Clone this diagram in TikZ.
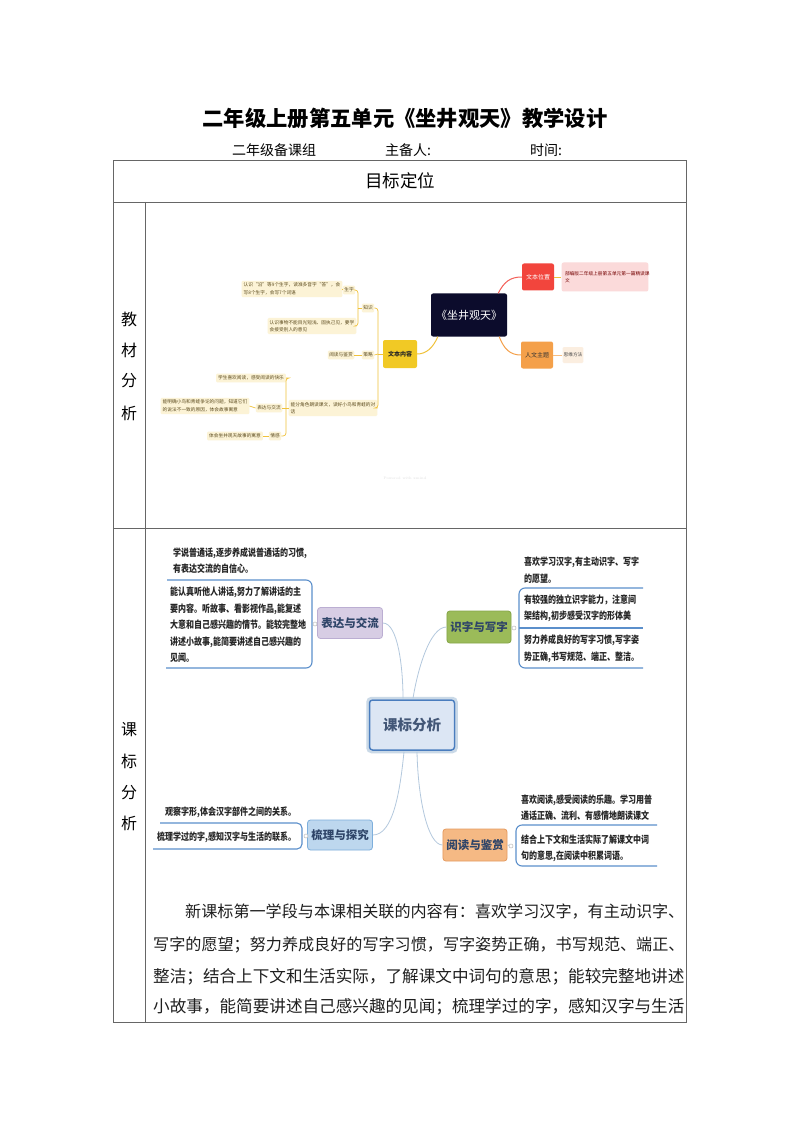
\documentclass[tikz,border=0pt]{standalone}
\usepackage{fontspec}
\usepackage{graphicx}
\usetikzlibrary{calc}
\newfontfamily\cjk{Noto Sans CJK SC}
\newcommand{\nx}[1]{\scalebox{0.8}[1]{#1}}
\definecolor{ygold}{HTML}{F0C23B}
\definecolor{ylt}{HTML}{FCF3D6}
\definecolor{ytx}{HTML}{5C4B1E}
\definecolor{navyb}{HTML}{0C0C2C}
\definecolor{rbox}{HTML}{F2453D}
\definecolor{pbox}{HTML}{FBDADA}
\definecolor{obox}{HTML}{F4A04A}
\definecolor{olt}{HTML}{FBEEE0}
\definecolor{cbox}{HTML}{F1C925}
\definecolor{blu}{HTML}{5B8FCB}
\definecolor{cln}{HTML}{B3C8DD}
\definecolor{ktx}{HTML}{2E4468}
\definecolor{kbfill}{HTML}{DCE6F4}
\definecolor{kbdraw}{HTML}{4A7DBE}
\definecolor{bdfill}{HTML}{D7CDE4}
\definecolor{bddraw}{HTML}{BBAED2}
\definecolor{sxfill}{HTML}{9BBB59}
\definecolor{sxdraw}{HTML}{85A548}
\definecolor{slfill}{HTML}{BDD7EE}
\definecolor{sldraw}{HTML}{7EAFDC}
\definecolor{ydfill}{HTML}{F5B984}
\definecolor{yddraw}{HTML}{E59B60}
\tikzset{
 ym/.style={fill=ylt, rounded corners=1.2, inner xsep=2, inner ysep=2.2, font=\cjk\fontsize{4.7}{7.5}\selectfont, text=ytx, align=left},
 yk/.style={ym, inner xsep=1.5},
 yl/.style={draw=ygold, line width=0.7},
 kbox/.style={rounded corners=3, line width=0.8, font=\cjk\bfseries\fontsize{11.5}{13}\selectfont, text=ktx, minimum height=31, minimum width=64},
 ktext/.style={font=\cjk\bfseries\fontsize{10}{16.5}\selectfont, text=black!85, align=left, inner sep=0, anchor=west},
 bline/.style={draw=blu, line width=1.1},
 cline/.style={draw=cln, line width=0.8},
 knob/.style={circle, draw=gray!55, fill=white, inner sep=0, minimum size=4, line width=0.5},
 tline/.style={draw=black!60, line width=0.9},
 para/.style={inner sep=0, anchor=west, text=black!88},
 side/.style={font=\cjk\fontsize{16}{18}\selectfont, inner sep=0},
}
\begin{document}
\begin{tikzpicture}[x=1pt,y=-1pt]
\useasboundingbox (0,0) rectangle (800,1131);
\fill[white] (0,0) rectangle (800,1131);

% title
\node[font=\cjk\bfseries\fontsize{21.3}{24}\selectfont] (title) at (405,118) {二年级上册第五单元《坐井观天》教学设计};
\node[font=\cjk\fontsize{14}{16}\selectfont, anchor=west, inner sep=0] (grp) at (232,150) {二年级备课组};
\node[font=\cjk\fontsize{14}{16}\selectfont, anchor=west, inner sep=0] (who) at (385,150) {主备人:};
\node[font=\cjk\fontsize{14}{16}\selectfont, anchor=west, inner sep=0] (when) at (530,150) {时间:};

% table
\draw[tline] (113,160) rectangle (686,1022);
\draw[tline] (113,202) -- (686,202);
\draw[tline] (113,528) -- (686,528);
\draw[tline] (145,202) -- (145,1022);
\node[font=\cjk\fontsize{17.5}{20}\selectfont] (goal) at (400,181) {目标定位};
\node[side] (j1) at (129,319) {教};
\node[side] (j2) at (129,350) {材};
\node[side] (j3) at (129,381) {分};
\node[side] (j4) at (129,413) {析};
\node[side] (k1) at (129,730) {课};
\node[side] (k2) at (129,761) {标};
\node[side] (k3) at (129,793) {分};
\node[side] (k4) at (129,823) {析};

% ---------- top mind map ----------
\node[fill=navyb, rounded corners=2, minimum width=76, minimum height=43, text=white, font=\cjk\fontsize{11}{13}\selectfont] (root) at (469,315) {《坐井观天》};
\node[fill=rbox, rounded corners=2, minimum width=32, minimum height=27, text=white, font=\cjk\fontsize{6}{7}\selectfont] (pos) at (538,277) {文本位置};
\node[fill=pbox, rounded corners=2, minimum width=85, minimum height=29, text=red!45!black, font=\cjk\fontsize{4.7}{7.5}\selectfont, align=left, text width=80] (posT) at (605,277) {部编版二年级上册第五单元第一篇精读课\\文};
\node[fill=obox, rounded corners=2, minimum width=32, minimum height=27, text=black!80, font=\cjk\fontsize{6}{7}\selectfont] (theme) at (537,355) {人文主题};
\node[fill=olt, rounded corners=1.2, minimum width=20, minimum height=16, text=black!70, font=\cjk\fontsize{4.7}{6}\selectfont, inner sep=1] (themeT) at (573,355) {思维方法};
\node[fill=cbox, rounded corners=2, minimum width=34, minimum height=28, text=black!85, font=\cjk\bfseries\fontsize{6}{7}\selectfont] (content) at (400,354) {文本内容};

\node[yk] (know) at (368,308) {知识};
\node[yk] (sz) at (349,290) {生字};
\node[ym] (t1) at (292,289) {认识“沿”等9个生字，读准多音字“答”，会\\写8个生字，会写7个词语};
\node[ym] (t2) at (312,326) {认识事物不能目光短浅、固执己见，要学\\会接受别人的意见};
\node[yk] (cl) at (368,355) {策略};
\node[yk] (rd) at (341,355) {阅读与鉴赏};
\node[ym] (long) at (333,408) {能分角色朗读课文，读好小鸟和青蛙的对\\话};
\node[yk] (ex) at (269,408) {表达与交流};
\node[ym] (s1) at (251,378) {学生喜欢阅读，感受阅读的快乐};
\node[ym] (s2) at (205,406) {能明确小鸟和青蛙争论的问题，知道它们\\的说法不一致的原因，体会故事寓意};
\node[yk] (emo) at (275,436) {情感};
\node[ym] (s3) at (235,436) {体会坐井观天故事的寓意};

\coordinate (cj) at (378,354);
\coordinate (kj) at (358,308);
\coordinate (lj) at (286,408);
\draw[yl] (content.west) -- (cj);
\draw[yl, rounded corners=3] (cj) |- (know.east);
\draw[yl, rounded corners=3] (cj) |- (long.east);
\draw[yl] (cj) -- (cl.east);
\draw[yl] (know.west) -- (kj);
\draw[yl, rounded corners=3] (kj) |- (sz.east);
\draw[yl, rounded corners=3] (kj) |- (t2.east);
\draw[yl] (sz.west) -- (t1.east);
\draw[yl] (cl.west) -- (rd.east);
\draw[yl] (long.west) -- (lj);
\draw[yl, rounded corners=3] (lj) |- (s1.east);
\draw[yl] (lj) -- (ex.east);
\draw[yl, rounded corners=3] (lj) |- (emo.east);
\draw[yl] (ex.west) -- (s2.east);
\draw[yl] (emo.west) -- (s3.east);
\draw[yl] (pos.east) -- (posT.west);
\draw[draw=obox!70, line width=0.7] (theme.east) -- (themeT.west);

\draw[draw=rbox!85, line width=1] ($(root.north east)+(-9,0)$) .. controls (504,282) and (510,277) .. (pos.west);
\draw[draw=obox, line width=1] ($(root.south east)+(-8,0)$) .. controls (504,349) and (510,355) .. (theme.west);
\draw[draw=ygold, line width=1] ($(root.south west)+(7,0)$) .. controls (433,348) and (426,354) .. (content.east);

\node[font=\fontsize{3.5}{4}\selectfont, text=gray!25] (wm) at (405,478) {Powered with xmind};

% ---------- second mind map ----------
\node[rounded corners=4, draw=cln!70, line width=2.5, minimum width=89, minimum height=54] (kbo) at (412,725) {};
\node[kbox, fill=kbfill, draw=kbdraw, line width=1.5, minimum width=85, minimum height=50, font=\cjk\bfseries\fontsize{14.5}{16}\selectfont, text=ktx!90] (kb) at (412,725) {课标分析};
\node[kbox, fill=bdfill, draw=bddraw, minimum width=65, minimum height=31] (bd) at (350,623) {表达与交流};
\node[kbox, fill=sxfill, draw=sxdraw, minimum width=63, minimum height=32] (sx) at (479,627) {识字与写字};
\node[kbox, fill=slfill, draw=sldraw, minimum width=65, minimum height=30] (sl) at (340,835) {梳理与探究};
\node[kbox, fill=ydfill, draw=yddraw, minimum width=63, minimum height=32] (yd) at (475,845) {阅读与鉴赏};

\draw[cline] (bd.east) .. controls (398,623) and (403,668) .. ($(kb.north)+(-9,-1)$);
\draw[cline] (sx.west) .. controls (430,627) and (418,668) .. ($(kb.north)+(1,-1)$);
\draw[cline] (sl.east) .. controls (393,835) and (400,792) .. ($(kb.south)+(-8,1)$);
\draw[cline] (yd.west) .. controls (428,845) and (418,800) .. ($(kb.south)+(5,1)$);

% 表达与交流 texts
\node[ktext] (eA) at (173,560.5) {\nx{学说普通话,逐步养成说普通话的习惯,}\\\nx{有表达交流的自信心。}};
\node[ktext] (eB) at (170,625) {\nx{能认真听他人讲话,努力了解讲话的主}\\\nx{要内容。听故事、看影视作品,能复述}\\\nx{大意和自己感兴趣的情节。能较完整地}\\\nx{讲述小故事,能简要讲述自己感兴趣的}\\\nx{见闻。}};
\coordinate (eA1) at (167,580);
\coordinate (eB1) at (166,668);
\draw[bline, rounded corners=6] (eA1) -- (312,580) -- (312,668) -- (eB1);
\node[knob] (kA) at (315,624) {};
\draw[cline] (kA) -- (bd.west);

% 识字与写字 texts
\node[ktext] (w1) at (524,570) {\nx{喜欢学习汉字,有主动识字、写字}\\\nx{的愿望。}};
\node[ktext] (w2) at (524,608.5) {\nx{有较强的独立识字能力，注意间}\\\nx{架结构,初步感受汉字的形体美}};
\node[ktext] (w3) at (524,649) {\nx{努力养成良好的写字习惯,写字姿}\\\nx{势正确,书写规范、端正、整洁。}};
\coordinate (wA) at (643,588);
\coordinate (wB) at (643,628);
\coordinate (wC) at (643,668);
\draw[bline, rounded corners=6] (wA) -- (519,588) -- (519,668) -- (wC);
\draw[bline] (519,628) -- (wB);
\node[knob] (kW) at (514,628) {};
\draw[cline] (sx.east) -- (kW);

% 阅读与鉴赏 texts
\node[ktext] (r1) at (521,807.5) {\nx{喜欢阅读,感受阅读的乐趣。学习用普}\\\nx{通话正确、流利、有感情地朗读课文}};
\node[ktext] (r2) at (521,848.5) {\nx{结合上下文和生活实际了解课文中词}\\\nx{句的意思,在阅读中积累词语。}};
\coordinate (rA) at (657,825);
\coordinate (rB) at (657,866);
\draw[bline, rounded corners=6] (rA) -- (516,825) -- (516,866) -- (rB);
\node[knob] (kR) at (511,846) {};
\draw[cline] (yd.east) -- (kR);

% 梳理与探究 texts
\node[ktext] (m1) at (165,812) {\nx{观察字形,体会汉字部件之间的关系。}};
\node[ktext] (m2) at (157,837) {\nx{梳理学过的字,感知汉字与生活的联系。}};
\coordinate (mA) at (160,823);
\coordinate (mB) at (153,849);
\draw[bline, rounded corners=5] (mA) -- (302,823) -- (302,849) -- (mB);
\node[knob] (kM) at (306,836) {};
\draw[cline] (kM) -- (sl.west);

% paragraph
\node[para, font=\cjk\fontsize{16.1}{18}\selectfont] (p1) at (185,912) {新课标第一学段与本课相关联的内容有：喜欢学习汉字，有主动识字、};
\node[para, font=\cjk\fontsize{16.1}{18}\selectfont] (p2) at (153,945) {写字的愿望；努力养成良好的写字习惯，写字姿势正确，书写规范、端正、};
\node[para, font=\cjk\fontsize{16.6}{18}\selectfont] (p3) at (153,977) {整洁；结合上下文和生活实际，了解课文中词句的意思；能较完整地讲述};
\node[para, font=\cjk\fontsize{16.6}{18}\selectfont] (p4) at (153,1007) {小故事，能简要讲述自己感兴趣的见闻；梳理学过的字，感知汉字与生活};
\end{tikzpicture}
\end{document}
